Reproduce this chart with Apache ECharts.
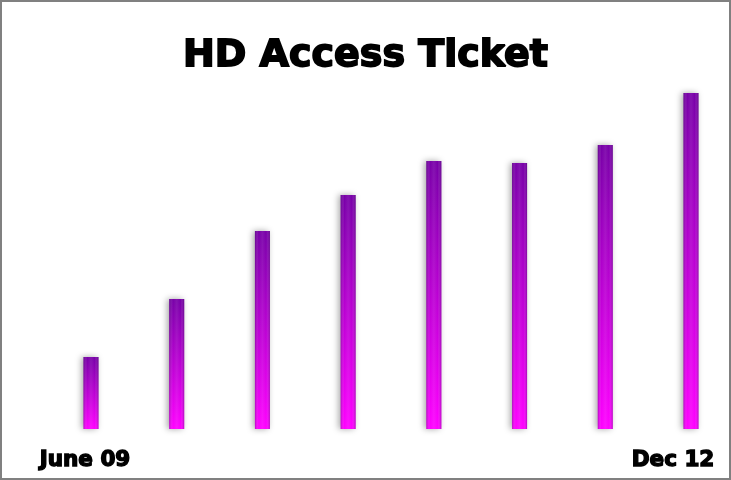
<!DOCTYPE html>
<html><head><meta charset="utf-8">
<script src="https://cdn.jsdelivr.net/npm/echarts@6/dist/echarts.min.js"></script>
<style>html,body{margin:0;padding:0;background:#fff}#c{width:731px;height:480px;box-sizing:border-box;border:2px solid #808080}</style>
</head><body><div id="c"></div>
<script>
var titleText = 'HD Access Ticket';
var categories = ['June 09','Dec 09','June 10','Dec 10','June 11','Dec 11','June 12','Dec 12'];
var values = [72, 130, 198, 234, 268, 266, 284, 336];
var endLabels = ['June 09', 'Dec 12'];

var chart = echarts.init(document.getElementById('c'), null, {renderer:'canvas'});
var fontFam = '"DejaVu Sans", sans-serif';
chart.setOption({
  animation:false,
  title:{text:titleText,left:'center',top:30,textStyle:{fontFamily:fontFam,fontWeight:'bold',fontSize:38,color:'#000',textBorderColor:'#000',textBorderWidth:1.8}},
  grid:{left:89,right:38,top:91,bottom:49},
  xAxis:{type:'category',data:categories,boundaryGap:false,axisLine:{show:false},axisTick:{show:false},axisLabel:{show:false},splitLine:{show:false}},
  yAxis:{type:'value',min:0,max:336,show:false,splitLine:{show:false}},
  series:[
    {type:'bar',data:values,barWidth:15,
     itemStyle:{color:new echarts.graphic.LinearGradient(0,0,0,1,[{offset:0,color:'#7800a8'},{offset:1,color:'#ff00ff'}],false),
       shadowBlur:6,shadowColor:'rgba(0,0,0,0.35)',shadowOffsetX:-2}},
    {type:'bar',data:values,barWidth:15,barGap:'-100%',silent:true,
     itemStyle:{color:new echarts.graphic.LinearGradient(0,0,1,0,[{offset:0,color:'rgba(60,0,90,0.35)'},{offset:0.25,color:'rgba(255,255,255,0.0)'},{offset:0.5,color:'rgba(255,255,255,0.08)'},{offset:0.75,color:'rgba(255,255,255,0.0)'},{offset:1,color:'rgba(60,0,90,0.35)'}])}}
  ],
  graphic:[
    {type:'text',left:37,top:447,style:{text:endLabels[0],font:'bold 21.5px '+fontFam,fill:'#000',stroke:'#000',lineWidth:1.4}},
    {type:'text',right:14,top:447,style:{text:endLabels[1],font:'bold 21.5px '+fontFam,fill:'#000',stroke:'#000',lineWidth:1.4}}
  ]
});
</script></body></html>
